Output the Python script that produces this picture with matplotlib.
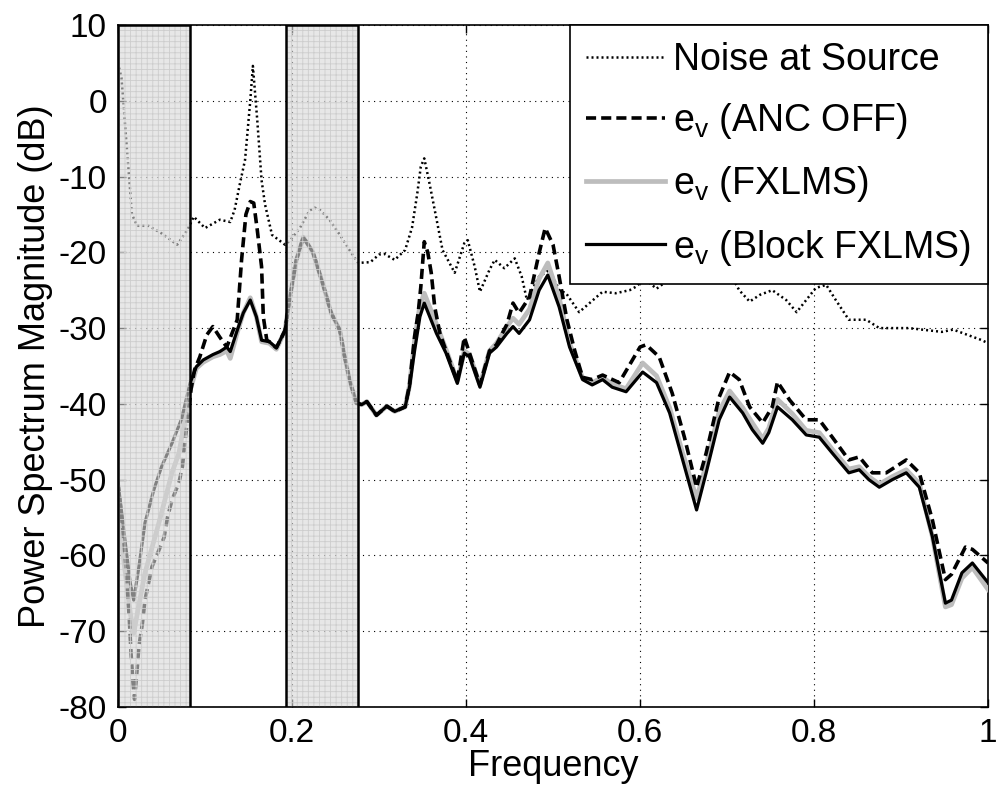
import matplotlib
matplotlib.use("Agg")
import matplotlib.pyplot as plt
from matplotlib.patches import Rectangle

plt.rcParams['font.family'] = ['Liberation Sans', 'DejaVu Sans']
plt.rcParams['mathtext.fontset'] = 'custom'
plt.rcParams['mathtext.rm'] = 'Liberation Sans'
plt.rcParams['mathtext.it'] = 'Liberation Sans'
plt.rcParams['axes.unicode_minus'] = False
plt.rcParams['hatch.linewidth'] = 0.6

# noise measured at the source
noise_f = [0.000, 0.004, 0.008, 0.012, 0.016, 0.022, 0.035, 0.050, 0.068, 0.080,
           0.087, 0.100, 0.117, 0.129, 0.134, 0.140, 0.146, 0.152, 0.155, 0.160,
           0.165, 0.169, 0.177, 0.192, 0.198, 0.209, 0.220, 0.226, 0.232, 0.243,
           0.255, 0.266, 0.276, 0.290, 0.300, 0.306, 0.318, 0.330, 0.338, 0.344,
           0.348, 0.352, 0.358, 0.364, 0.373, 0.387, 0.398, 0.402, 0.410, 0.416,
           0.427, 0.433, 0.444, 0.456, 0.464, 0.470, 0.484, 0.496, 0.507, 0.515,
           0.530, 0.542, 0.557, 0.572, 0.588, 0.596, 0.605, 0.619, 0.640, 0.660,
           0.680, 0.700, 0.714, 0.726, 0.738, 0.752, 0.768, 0.780, 0.791, 0.802,
           0.814, 0.825, 0.840, 0.860, 0.875, 0.909, 0.947, 0.960, 0.993, 1.000]
noise_db = [5.0, 3.0, -3.0, -9.0, -15.0, -16.5, -16.5, -17.5, -19.0, -17.0,
            -15.3, -16.8, -15.7, -16.0, -14.4, -11.0, -7.8, 0.0, 4.6, -2.5,
            -10.5, -13.7, -17.7, -19.0, -18.4, -16.8, -14.5, -14.1, -14.4, -15.7,
            -17.7, -19.7, -21.4, -21.3, -20.3, -20.2, -21.0, -19.7, -16.7, -12.2,
            -8.7, -7.6, -10.9, -14.4, -19.7, -22.7, -18.8, -18.4, -21.9, -25.2,
            -22.3, -21.0, -22.1, -20.8, -23.2, -26.3, -23.2, -22.3, -25.0, -25.4,
            -27.9, -26.7, -25.2, -25.4, -25.0, -24.5, -23.5, -24.8, -23.0, -22.5,
            -23.0, -22.0, -25.0, -26.5, -25.6, -25.0, -26.3, -27.9, -26.3, -24.7,
            -24.3, -26.3, -28.9, -28.9, -30.0, -30.0, -30.5, -30.2, -31.6, -32.0]

# error signal, ANC switched off
off_f = [0.000, 0.006, 0.010, 0.013, 0.015, 0.017, 0.019, 0.022, 0.024, 0.028,
         0.031, 0.039, 0.047, 0.053, 0.057, 0.062, 0.070, 0.074, 0.076, 0.080,
         0.084, 0.088, 0.094, 0.102, 0.109, 0.117, 0.125, 0.137, 0.142, 0.147,
         0.152, 0.156, 0.160, 0.165, 0.167, 0.171, 0.174, 0.182, 0.192, 0.197,
         0.205, 0.213, 0.224, 0.235, 0.245, 0.255, 0.260, 0.266, 0.274, 0.280,
         0.286, 0.297, 0.309, 0.318, 0.330, 0.335, 0.341, 0.345, 0.348, 0.352,
         0.356, 0.360, 0.364, 0.370, 0.377, 0.390, 0.398, 0.404, 0.416, 0.427,
         0.435, 0.447, 0.454, 0.461, 0.473, 0.484, 0.491, 0.500, 0.507, 0.516,
         0.525, 0.534, 0.545, 0.557, 0.576, 0.600, 0.607, 0.622, 0.637, 0.651,
         0.665, 0.676, 0.691, 0.703, 0.714, 0.726, 0.741, 0.752, 0.758, 0.772,
         0.791, 0.806, 0.821, 0.840, 0.852, 0.867, 0.883, 0.906, 0.921, 0.936,
         0.951, 0.958, 0.974, 0.982, 1.000]
off_db = [-50.4, -57.0, -63.0, -68.5, -73.0, -76.5, -79.0, -75.0, -72.0, -69.0,
          -65.9, -61.5, -59.3, -57.6, -54.9, -52.7, -50.4, -48.3, -46.0, -42.0,
          -38.0, -35.5, -33.8, -30.9, -29.8, -31.2, -32.5, -28.9, -21.0, -15.0,
          -13.3, -13.5, -17.0, -21.9, -28.5, -31.6, -31.8, -32.6, -30.3, -26.3,
          -21.0, -18.0, -20.0, -24.0, -28.0, -30.3, -33.5, -36.8, -39.9, -40.1,
          -39.7, -41.5, -40.3, -41.0, -40.4, -37.5, -31.0, -28.0, -24.6, -18.6,
          -20.0, -22.7, -27.2, -30.7, -33.0, -37.0, -31.2, -33.3, -37.5, -33.0,
          -32.2, -29.5, -26.7, -28.0, -25.9, -20.1, -16.8, -19.0, -23.2, -28.9,
          -33.0, -36.5, -36.8, -36.2, -37.2, -32.5, -32.2, -33.8, -38.6, -44.4,
          -51.0, -46.5, -39.1, -35.8, -36.8, -40.4, -42.5, -40.4, -37.1, -39.5,
          -42.1, -42.1, -44.4, -47.4, -47.0, -49.1, -49.1, -47.4, -49.1, -55.3,
          -63.2, -62.5, -58.9, -59.2, -61.0]

# error signal with FXLMS
fx_f = [0.000, 0.008, 0.014, 0.018, 0.024, 0.031, 0.047, 0.062, 0.070, 0.083,
        0.090, 0.098, 0.109, 0.117, 0.125, 0.129, 0.137, 0.144, 0.152, 0.159,
        0.165, 0.174, 0.182, 0.192, 0.197, 0.205, 0.213, 0.224, 0.235, 0.245,
        0.255, 0.260, 0.266, 0.274, 0.280, 0.286, 0.297, 0.309, 0.318, 0.330,
        0.335, 0.341, 0.347, 0.352, 0.366, 0.377, 0.390, 0.398, 0.404, 0.416,
        0.427, 0.435, 0.447, 0.454, 0.461, 0.473, 0.484, 0.494, 0.507, 0.519,
        0.534, 0.545, 0.557, 0.568, 0.584, 0.603, 0.619, 0.634, 0.649, 0.665,
        0.676, 0.691, 0.703, 0.718, 0.729, 0.741, 0.748, 0.758, 0.775, 0.791,
        0.806, 0.821, 0.840, 0.852, 0.863, 0.875, 0.890, 0.906, 0.921, 0.936,
        0.951, 0.958, 0.970, 0.982, 1.000]
fx_db = [-54.0, -62.0, -67.5, -70.3, -66.5, -62.3, -55.7, -49.1, -46.5, -38.2,
         -35.3, -34.5, -33.8, -33.5, -33.0, -34.0, -30.6, -28.0, -26.0, -28.5,
         -31.8, -32.0, -32.8, -30.3, -26.3, -21.0, -18.0, -20.0, -24.0, -28.0,
         -30.3, -33.5, -36.8, -39.9, -40.1, -39.7, -41.5, -40.3, -41.0, -40.4,
         -37.6, -31.5, -27.0, -25.4, -29.5, -32.8, -37.0, -33.0, -33.5, -37.5,
         -33.0, -32.0, -29.8, -28.7, -29.5, -27.5, -23.5, -21.4, -26.0, -32.0,
         -36.6, -37.2, -36.5, -37.4, -38.0, -34.6, -36.3, -40.5, -46.5, -52.5,
         -48.0, -41.0, -38.3, -40.5, -42.5, -44.6, -43.2, -39.4, -41.3, -43.5,
         -43.8, -46.0, -48.6, -48.3, -49.6, -50.6, -49.6, -48.7, -50.5, -57.5,
         -66.8, -66.5, -63.0, -61.6, -64.5]

# error signal with block FXLMS
blk_f = [0.000, 0.008, 0.014, 0.018, 0.024, 0.031, 0.041, 0.050, 0.062, 0.073,
         0.083, 0.090, 0.098, 0.109, 0.117, 0.125, 0.129, 0.137, 0.144, 0.152,
         0.159, 0.165, 0.174, 0.182, 0.192, 0.197, 0.205, 0.213, 0.224, 0.235,
         0.245, 0.255, 0.260, 0.266, 0.274, 0.280, 0.286, 0.297, 0.309, 0.318,
         0.330, 0.335, 0.341, 0.347, 0.352, 0.366, 0.377, 0.390, 0.398, 0.404,
         0.416, 0.427, 0.435, 0.447, 0.454, 0.461, 0.473, 0.484, 0.494, 0.507,
         0.519, 0.534, 0.545, 0.557, 0.568, 0.584, 0.603, 0.619, 0.634, 0.649,
         0.665, 0.676, 0.691, 0.703, 0.718, 0.729, 0.741, 0.748, 0.758, 0.775,
         0.791, 0.806, 0.821, 0.840, 0.852, 0.863, 0.875, 0.890, 0.906, 0.921,
         0.936, 0.951, 0.958, 0.970, 0.982, 1.000]
blk_db = [-50.4, -58.0, -63.6, -65.9, -61.5, -55.7, -51.4, -48.3, -45.2, -42.0,
          -37.2, -35.1, -34.2, -33.5, -33.1, -32.5, -33.1, -30.3, -28.0, -26.3,
          -28.5, -31.6, -31.8, -32.6, -30.3, -26.3, -21.0, -18.0, -20.0, -24.0,
          -28.0, -30.3, -33.5, -36.8, -39.9, -40.1, -39.7, -41.5, -40.3, -41.0,
          -40.4, -37.8, -32.9, -28.5, -26.7, -30.7, -33.3, -37.3, -33.3, -33.8,
          -37.8, -33.3, -32.5, -30.7, -29.8, -30.7, -28.9, -25.0, -23.0, -27.2,
          -32.5, -36.8, -37.5, -36.8, -37.8, -38.4, -35.8, -37.2, -41.2, -47.4,
          -54.0, -49.1, -42.1, -39.1, -41.2, -43.4, -45.2, -43.8, -40.4, -42.1,
          -44.1, -44.4, -46.5, -49.1, -48.7, -50.0, -51.0, -50.0, -49.1, -51.0,
          -57.5, -66.3, -65.9, -62.3, -61.0, -63.6]

# frequency bands that are highlighted
bands = [(0.0, 0.083), (0.193, 0.276)]

fig = plt.figure(figsize=(9.96, 8.01), dpi=100)
ax = fig.add_axes([0.1185, 0.1174, 0.8735, 0.8514])

ax.plot(noise_f, noise_db, color='black', linewidth=1.8, linestyle=(0, (0.8, 1.2)),
        label='Noise at Source', zorder=3)
ax.plot(fx_f, fx_db, color='#bdbdbd', linewidth=3.4, solid_joinstyle='round',
        label=r'e$_\mathregular{v}$ (FXLMS)', zorder=4)
ax.plot(blk_f, blk_db, color='black', linewidth=2.3, solid_joinstyle='round',
        label=r'e$_\mathregular{v}$ (Block FXLMS)', zorder=5)
ax.plot(off_f, off_db, color='black', linewidth=2.6, linestyle=(0, (2.8, 1.4)),
        dash_joinstyle='round', label=r'e$_\mathregular{v}$ (ANC OFF)', zorder=6)

# shaded bands drawn over the curves
for lo, hi in bands:
    ax.add_patch(Rectangle((lo, -80), hi - lo, 90, facecolor='#d8d8d8', alpha=0.6,
                           edgecolor='none', zorder=7))
    ax.add_patch(Rectangle((lo, -80), hi - lo, 90, fill=False, hatch='+++',
                           edgecolor='#cdcdcd', linewidth=0, zorder=7.5))
    ax.add_patch(Rectangle((lo, -80), hi - lo, 90, fill=False, edgecolor='black',
                           linewidth=1.8, zorder=8))

ax.set_xlim(0, 1)
ax.set_ylim(-80, 10)
ax.set_xticks([0, 0.2, 0.4, 0.6, 0.8, 1])
ax.set_xticklabels(['0', '0.2', '0.4', '0.6', '0.8', '1'])
ax.set_yticks(range(-80, 11, 10))
ax.tick_params(direction='in', labelsize=24, length=6, width=1, top=True, right=True, pad=8)
ax.grid(True, color='black', linestyle=(0, (1, 4)), linewidth=0.8)
for s in ax.spines.values():
    s.set_linewidth(1.2)

ax.set_xlabel('Frequency', fontsize=26, labelpad=0)
ax.set_ylabel('Power Spectrum Magnitude (dB)', fontsize=26, labelpad=4)

handles, labels = ax.get_legend_handles_labels()
order = [0, 3, 1, 2]
leg = ax.legend([handles[i] for i in order], [labels[i] for i in order],
                loc='upper right', borderaxespad=0, fontsize=27, fancybox=False,
                framealpha=1, edgecolor='black', handlelength=2.1, handletextpad=0.22,
                labelspacing=0.62, borderpad=0.45)
leg.get_frame().set_linewidth(1.2)
leg.set_zorder(10)

fig.savefig('out.png', dpi=100)
